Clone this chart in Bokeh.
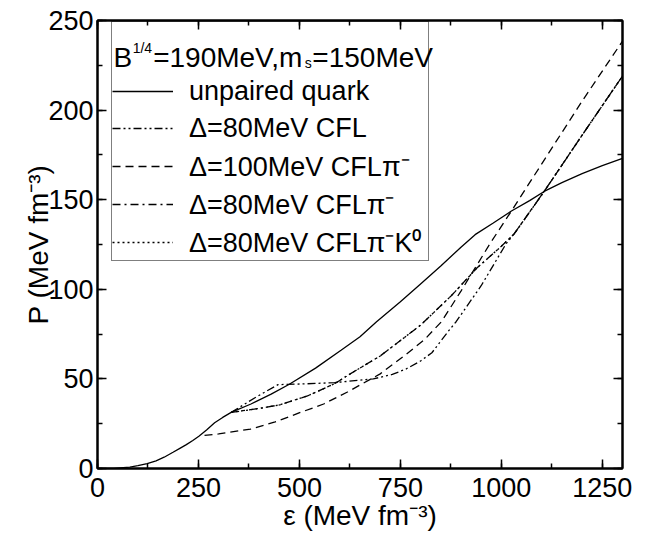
from bokeh.plotting import figure
from bokeh.models import Range1d, LinearAxis, SingleIntervalTicker, Legend, LegendItem, Label
from bokeh.embed import file_html
from bokeh.resources import INLINE

# ---- data ----
eps_unpaired = [0, 40, 80, 100, 123, 145, 165, 187, 205, 220, 236, 251, 270, 290, 310, 331, 380, 430, 475,
                540, 603, 650, 691, 750, 800, 850, 900, 935, 980, 1025, 1070, 1106, 1150, 1200, 1250, 1300]
P_unpaired = [0, 0, 0.8, 1.6, 2.7, 4.3, 6.3, 9.1, 11.4, 13.3, 15.6, 18, 21.5, 25.5, 28.5, 31.3, 36, 41.5, 47,
              56, 66, 73.5, 81.9, 93, 103, 113, 123.5, 130.5, 137, 143.7, 149.5, 154.6, 159.5, 164.5, 169, 173]

eps_cfl80 = [331, 390, 447, 520, 587, 619, 683, 730, 764, 800, 828, 868, 888, 950, 1012, 1032,
             1106, 1200, 1300]
P_cfl80 = [31.3, 39.5, 46.8, 47.3, 47.9, 48.6, 50, 52.5, 55.5, 60, 64.6, 76.4, 81.9, 102, 125.5, 131,
           154.6, 186, 219]

eps_cflpi100 = [265, 300, 379, 440, 499, 560, 619, 700, 764, 810, 852, 900, 972, 1025, 1100, 1200, 1300]
P_cflpi100 = [18.5, 19.3, 22, 26, 31, 36, 42.7, 52.8, 63.7, 72, 82, 99, 125.5, 143.7, 170, 205, 238.5]

eps_cflpi80 = [331, 400, 451, 520, 587, 619, 700, 800, 876, 940, 1000, 1032, 1106, 1200, 1300]
P_cflpi80 = [31.3, 33.5, 35.5, 40.5, 47.3, 51.9, 62.8, 80, 96.4, 112, 124, 131, 154.6, 186, 219]

eps_cflpik80 = [331, 400, 451, 520, 587, 619, 700, 800, 876, 940, 1000, 1032, 1106, 1200, 1300]
P_cflpik80 = [31.3, 33.5, 35.5, 40.5, 47.3, 51.9, 62.8, 80, 96.4, 112, 124, 131, 154.6, 186, 219]

legend_labels = ["unpaired quark", "Δ=80MeV CFL", "Δ=100MeV CFLπ⁻", "Δ=80MeV CFLπ⁻", "Δ=80MeV CFLπ⁻K⁰"]
x_ticks_interval = 250
y_ticks_interval = 50

FONT = "Liberation Sans"

p = figure(width=632, height=538, output_backend="svg", toolbar_location=None,
           x_range=Range1d(0, 1300), y_range=Range1d(0, 250),
           min_border_left=97, min_border_right=10, min_border_top=20, min_border_bottom=70,
           x_axis_label="ε (MeV fm⁻³)", y_axis_label="P (MeV fm⁻³)")
p.xgrid.visible = False
p.ygrid.visible = False
p.outline_line_color = "black"
p.outline_line_width = 2
p.background_fill_color = "white"
p.border_fill_color = "white"

xt = SingleIntervalTicker(interval=x_ticks_interval, num_minor_ticks=2)
yt = SingleIntervalTicker(interval=y_ticks_interval, num_minor_ticks=2)

def style_axis(ax, labels=True):
    ax.axis_line_width = 2
    ax.major_tick_in = 9
    ax.major_tick_out = 0
    ax.minor_tick_in = 5
    ax.minor_tick_out = 0
    ax.major_tick_line_width = 1.5
    ax.minor_tick_line_width = 1.5
    ax.major_label_text_font = FONT
    ax.axis_label_text_font = FONT
    ax.axis_label_text_font_style = "normal"
    ax.axis_label_text_color = "black"
    ax.major_label_text_color = "black"
    if not labels:
        ax.major_label_text_font_size = "1px"
        ax.major_label_text_color = None
        ax.major_label_standoff = 0

for ax in p.xaxis:
    ax.ticker = xt
    style_axis(ax)
    ax.major_label_text_font_size = "27px"
    ax.major_label_standoff = 9
    ax.axis_label_text_font_size = "28px"
    ax.axis_label_standoff = 0
for ax in p.yaxis:
    ax.ticker = yt
    style_axis(ax)
    ax.major_label_text_font_size = "27px"
    ax.major_label_standoff = 4
    ax.axis_label_text_font_size = "28px"
    ax.axis_label_standoff = -9

top = LinearAxis(ticker=xt)
style_axis(top, labels=False)
p.add_layout(top, "above")
right = LinearAxis(ticker=yt)
style_axis(right, labels=False)
p.add_layout(right, "right")

lw = 1.3
r0 = p.line(eps_unpaired, P_unpaired, line_color="black", line_width=lw)
r1 = p.line(eps_cfl80, P_cfl80, line_color="black", line_width=lw, line_dash="8 3 2 3 2 3")
r2 = p.line(eps_cflpi100, P_cflpi100, line_color="black", line_width=lw, line_dash="8 5")
r3 = p.line(eps_cflpi80, P_cflpi80, line_color="black", line_width=lw, line_dash="8 4 2 4")
r4 = p.line(eps_cflpik80, P_cflpik80, line_color="black", line_width=lw, line_dash="2 3")

items = [LegendItem(label=t, renderers=[r]) for t, r in zip(legend_labels, [r0, r1, r2, r3, r4])]
legend = Legend(items=items, location=(14, 207), padding=0, margin=0,
                glyph_width=61, glyph_height=36, label_width=239, label_height=36,
                label_standoff=16, spacing=1,
                label_text_font=FONT, label_text_font_size="27px", label_text_color="black",
                border_line_color="black", border_line_width=1.3,
                background_fill_color="white", background_fill_alpha=0.0,
                title=" ", title_text_font_size="24px", title_standoff=23)
p.add_layout(legend, "center")

# legend title with super/subscripts
tx, ty = 16, 411
fs, ss = 28, 14
def lab(x, y, t, size):
    p.add_layout(Label(x=x, y=y, x_units="screen", y_units="screen", text=t,
                       text_font=FONT, text_font_size=f"{size}px", text_color="black",
                       text_baseline="alphabetic", text_align="left"))
lab(tx, ty, "B", fs)
x = tx + 0.667 * fs + 0.5
lab(x, ty + 10, "1/4", ss)
x += 1.39 * ss + 1
lab(x, ty, "=190MeV,m", fs)
x += 5.419 * fs
lab(x, ty - 5, "s", ss)
x += 0.5 * ss + 0.5
lab(x, ty, "=150MeV", fs)

open("out.html", "w").write(file_html(p, INLINE))
